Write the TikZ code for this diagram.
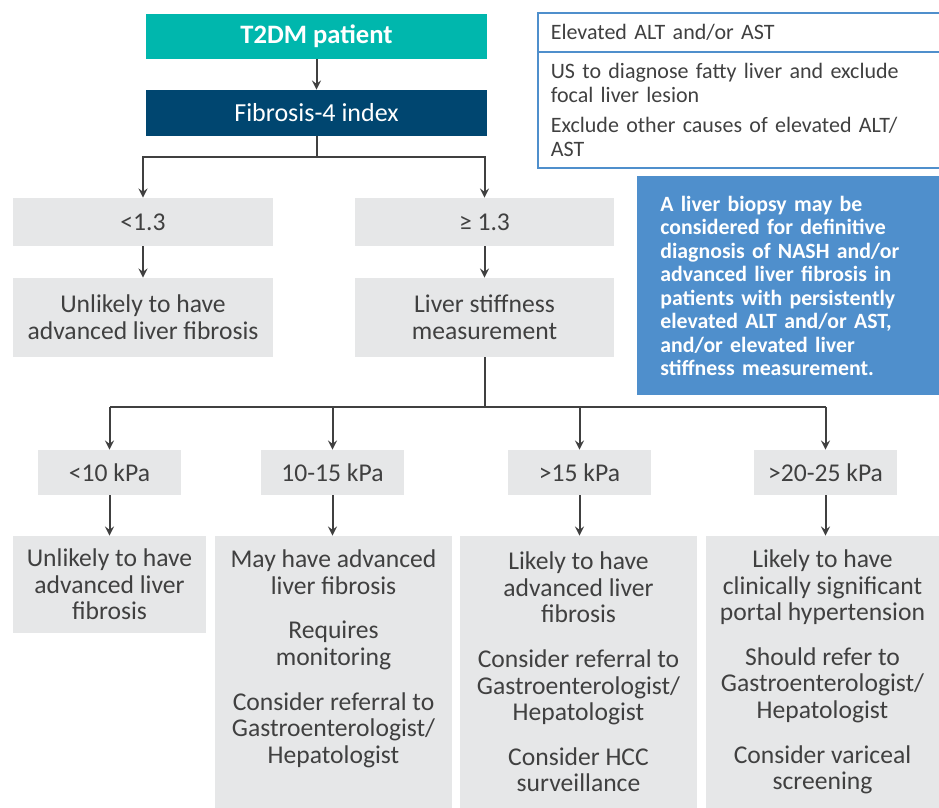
\documentclass[tikz,border=0pt]{standalone}
\usepackage{fontspec}
\setmainfont{Carlito}
\usepackage{tikz}
\definecolor{mycolor1}{RGB}{0,183,173}
\definecolor{mycolor2}{RGB}{0,70,112}
\definecolor{mycolor3}{RGB}{230,231,232}
\definecolor{mycolor4}{RGB}{79,143,204}
\definecolor{mycolor5}{RGB}{64,64,64}
\tikzset{greybox/.style={fill=mycolor3, text=mycolor5, align=center,
         inner sep=0pt, font=\fontsize{12.8}{13.3}\selectfont},
         topbox/.style={text=white, align=center, inner sep=0pt,
         minimum width=170.5pt, font=\fontsize{13}{14}\selectfont},
         connector/.style={draw=mycolor5, line width=1pt, -stealth},
         plainline/.style={draw=mycolor5, line width=1pt}}

\begin{document}
\begin{tikzpicture}[x=0.5pt,y=-0.5pt]
\useasboundingbox (0,0) rectangle (939,808);

\node [topbox, fill=mycolor1, minimum height=22.5pt, font=\fontsize{13.3}{14}\selectfont\bfseries] (t2dm) at (316.5,36.5) {T2DM patient};
\node [topbox, fill=mycolor2, minimum height=23pt] (fib) at (316.5,113) {Fibrosis-4 index};
\draw [connector] (t2dm) -- (fib);

\node [greybox, minimum width=130pt, minimum height=24pt] (lt) at (143,222) {<1.3};
\node [greybox, minimum width=129.5pt, minimum height=24pt] (ge) at (484.5,222) {≥ 1.3};
\node [greybox, minimum width=130pt, minimum height=39.5pt] (unl) at (143,317.5) {Unlikely to have\\advanced liver fibrosis};
\node [greybox, minimum width=129.5pt, minimum height=39.5pt] (lsm) at (484.5,317.5) {Liver stiffness\\measurement};

\coordinate (split1) at (316.5,157);
\draw [plainline] (fib.south) -- (split1);
\draw [connector] (split1) -| (lt.north);
\draw [connector] (split1) -| (ge.north);
\draw [connector] (lt) -- (unl);
\draw [connector] (ge) -- (lsm);

% kPa ranges
\node [greybox, minimum width=71.5pt, minimum height=22.5pt] (k1) at (109.5,472.5) {<10 kPa};
\node [greybox, minimum width=71.5pt, minimum height=22.5pt] (k2) at (332.5,472.5) {10-15 kPa};
\node [greybox, minimum width=71.5pt, minimum height=22.5pt] (k3) at (579.5,472.5) {>15 kPa};
\node [greybox, minimum width=71.5pt, minimum height=22.5pt] (k4) at (825.5,472.5) {>20-25 kPa};

\coordinate (split2) at (484.5,407);
\draw [plainline] (lsm.south) -- (split2);
\draw [plainline] (split2) -- (split2 -| k1.north) (split2) -- (split2 -| k4.north);
\foreach \k in {k1,k2,k3,k4}
  \draw [connector] (split2 -| \k.north) -- (\k.north);

\node [greybox, minimum width=96.5pt, minimum height=48.5pt] (b1) at (109.5,584.5)
  {Unlikely to have\\advanced liver\\fibrosis};
\node [greybox, minimum width=118.5pt, minimum height=136pt] (b2) at (333.5,672)
  {May have advanced\\liver fibrosis\\[9pt]Requires\\monitoring\\[9pt]Consider referral to\\Gastroenterologist/\\Hepatologist\\[2pt]\mbox{}};
\node [greybox, minimum width=118.5pt, minimum height=136pt] (b3) at (578.5,672)
  {Likely to have\\advanced liver\\fibrosis\\[9pt]Consider referral to\\Gastroenterologist/\\Hepatologist\\[9pt]Consider HCC\\surveillance};
\node [greybox, minimum width=116.5pt, minimum height=136pt] (b4) at (822.5,672)
  {Likely to have\\clinically significant\\portal hypertension\\[9pt]Should refer to\\Gastroenterologist/\\Hepatologist\\[9pt]Consider variceal\\screening};

\draw [connector] (k1) -- (b1);
\draw [connector] (k2.south) -- (k2.south |- b2.north);
\draw [connector] (k3.south) -- (k3.south |- b3.north);
\draw [connector] (k4.south) -- (k4.south |- b4.north);

% side notes
\node [draw=mycolor4, line width=0.8pt, anchor=north west, text=mycolor5, align=left,
       text width=188pt, inner xsep=6.5pt, inner ysep=0pt, minimum height=19.5pt,
       font=\fontsize{11}{12}\selectfont] (info1) at (537,12) {Elevated ALT and/or AST};
\node [draw=mycolor4, line width=0.8pt, anchor=north west, text=mycolor5, align=left,
       text width=188pt, inner xsep=6.5pt, inner ysep=0pt, minimum height=58pt,
       font=\fontsize{11}{12}\selectfont] (info2) at (537,51)
  {US to diagnose fatty liver and exclude\\focal liver lesion\\[3pt]Exclude other causes of elevated ALT/\\AST};

\node [fill=mycolor4, anchor=north west, text=white, align=left,
       text width=130pt, inner xsep=11.5pt, inner ysep=0pt, minimum height=109.5pt,
       font=\fontsize{10.9}{11.75}\selectfont\bfseries] (biopsy) at (637,176)
  {A liver biopsy may be\\considered for definitive\\diagnosis of NASH and/or\\advanced liver fibrosis in\\patients with persistently\\elevated ALT and/or AST,\\and/or elevated liver\\stiffness measurement.};

\end{tikzpicture}
\end{document}
